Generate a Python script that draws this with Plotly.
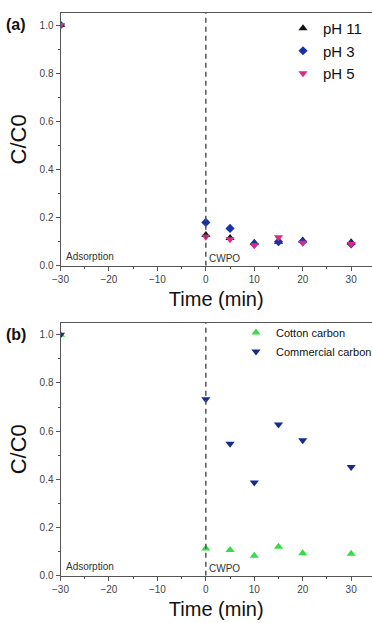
import plotly.graph_objects as go

time_min = [-30, 0, 5, 10, 15, 20, 30]

ph11 = [1.0, 0.128, 0.115, 0.095, 0.10, 0.105, 0.097]
ph3 = [1.0, 0.18, 0.155, 0.09, 0.10, 0.10, 0.09]
ph5 = [1.0, 0.12, 0.11, 0.085, 0.118, 0.095, 0.09]

cotton = [1.0, 0.113, 0.107, 0.083, 0.12, 0.093, 0.091]
commercial = [1.0, 0.732, 0.548, 0.387, 0.627, 0.562, 0.451]

x_ticks = [-30, -20, -10, 0, 10, 20, 30]
y_ticks = [0.0, 0.2, 0.4, 0.6, 0.8, 1.0]

W, H = 372, 623
FONT = "Liberation Sans, Arial, sans-serif"

fig = go.Figure()

def add(x, y, name, symbol, color, size, xa, ya, legend):
    fig.add_trace(go.Scatter(
        x=x, y=y, name=name, mode="markers",
        marker=dict(symbol=symbol, color=color, size=size, line=dict(width=0)),
        xaxis=xa, yaxis=ya, legend=legend,
    ))

add(time_min, ph11, "pH 11", "triangle-up", "#111111", 8, "x", "y", "legend")
add(time_min, ph3, "pH 3", "diamond", "#1a2fae", 7, "x", "y", "legend")
add(time_min, ph5, "pH 5", "triangle-down", "#dc2a80", 8, "x", "y", "legend")
add(time_min, cotton, "Cotton carbon", "triangle-up", "#33dd44", 8, "x2", "y2", "legend2")
add(time_min, commercial, "Commercial carbon", "triangle-down", "#142b8f", 8, "x2", "y2", "legend2")

xdom = [60.5 / W, 1.0]
ydom_a = [1 - 265.7 / H, 1 - 13 / H]
ydom_b = [1 - 575.7 / H, 1 - 322.7 / H]

def xax(domain, anchor):
    return dict(
        domain=domain, anchor=anchor, range=[-30, 34.3],
        tickvals=x_ticks, ticks="outside", ticklen=4, tickwidth=1, tickcolor="#555",
        minor=dict(dtick=5, tick0=-30, ticks="outside", ticklen=2, tickcolor="#555"),
        showline=True, linecolor="#555", linewidth=1, mirror=True,
        showgrid=False, zeroline=False,
        tickfont=dict(family=FONT, size=10, color="#444"),
        title=dict(text="Time (min)", font=dict(family=FONT, size=20, color="#111"), standoff=8),
        automargin=False,
    )

def yax(domain, anchor):
    return dict(
        domain=domain, anchor=anchor, range=[0, 1.05],
        tickvals=y_ticks, ticktext=["0.0", "0.2", "0.4", "0.6", "0.8", "1.0"],
        ticks="outside", ticklen=4, tickwidth=1, tickcolor="#555",
        minor=dict(dtick=0.1, tick0=0, ticks="outside", ticklen=2, tickcolor="#555"),
        showline=True, linecolor="#555", linewidth=1, mirror=False,
        showgrid=False, zeroline=False,
        tickfont=dict(family=FONT, size=10, color="#444"),
        title=dict(text="C/C0", font=dict(family=FONT, size=22, color="#111"), standoff=6),
        automargin=False,
    )

shapes = []
for xr, yr in (("x", "y"), ("x2", "y2")):
    shapes.append(dict(type="line", xref=xr, yref=yr, x0=0, x1=0, y0=0, y1=1.05,
                       line=dict(color="#555", width=1.5, dash="5px,4px")))

annotations = []
for xr, yr in (("x", "y"), ("x2", "y2")):
    annotations.append(dict(xref=xr, yref=yr, x=-29.2, y=0.0, yshift=2, text="Adsorption",
                            showarrow=False, xanchor="left", yanchor="bottom",
                            font=dict(family=FONT, size=10, color="#333")))
    annotations.append(dict(xref=xr, yref=yr, x=0.3, y=0.0, yshift=0, text="CWPO",
                            showarrow=False, xanchor="left", yanchor="bottom",
                            font=dict(family=FONT, size=10, color="#333")))
annotations.append(dict(xref="paper", yref="paper", x=4 / W, y=1 - 24 / H, text="<b>(a)</b>",
                        showarrow=False, xanchor="left", yanchor="middle",
                        font=dict(family=FONT, size=16, color="#111")))
annotations.append(dict(xref="paper", yref="paper", x=4 / W, y=1 - 334 / H, text="<b>(b)</b>",
                        showarrow=False, xanchor="left", yanchor="middle",
                        font=dict(family=FONT, size=16, color="#111")))

fig.update_layout(
    width=W, height=H,
    margin=dict(l=0, r=0, t=0, b=0, autoexpand=False),
    paper_bgcolor="white", plot_bgcolor="white",
    xaxis=xax(xdom, "y"), yaxis=yax(ydom_a, "x"),
    xaxis2=xax(xdom, "y2"), yaxis2=yax(ydom_b, "x2"),
    shapes=shapes, annotations=annotations,
    legend=dict(x=283 / W, y=1 - 12 / H, xanchor="left", yanchor="top",
                bgcolor="rgba(0,0,0,0)", font=dict(family=FONT, size=15, color="#111"),
                itemwidth=30, tracegroupgap=0),
    legend2=dict(x=236 / W, y=1 - 318 / H, xanchor="left", yanchor="top",
                 bgcolor="rgba(0,0,0,0)", font=dict(family=FONT, size=11, color="#111"),
                 itemwidth=30, tracegroupgap=0),
)

fig.write_html("out.html", config={"displayModeBar": False},
               post_script="document.body.style.margin='0';document.body.style.padding='0';document.body.style.overflow='hidden';")
